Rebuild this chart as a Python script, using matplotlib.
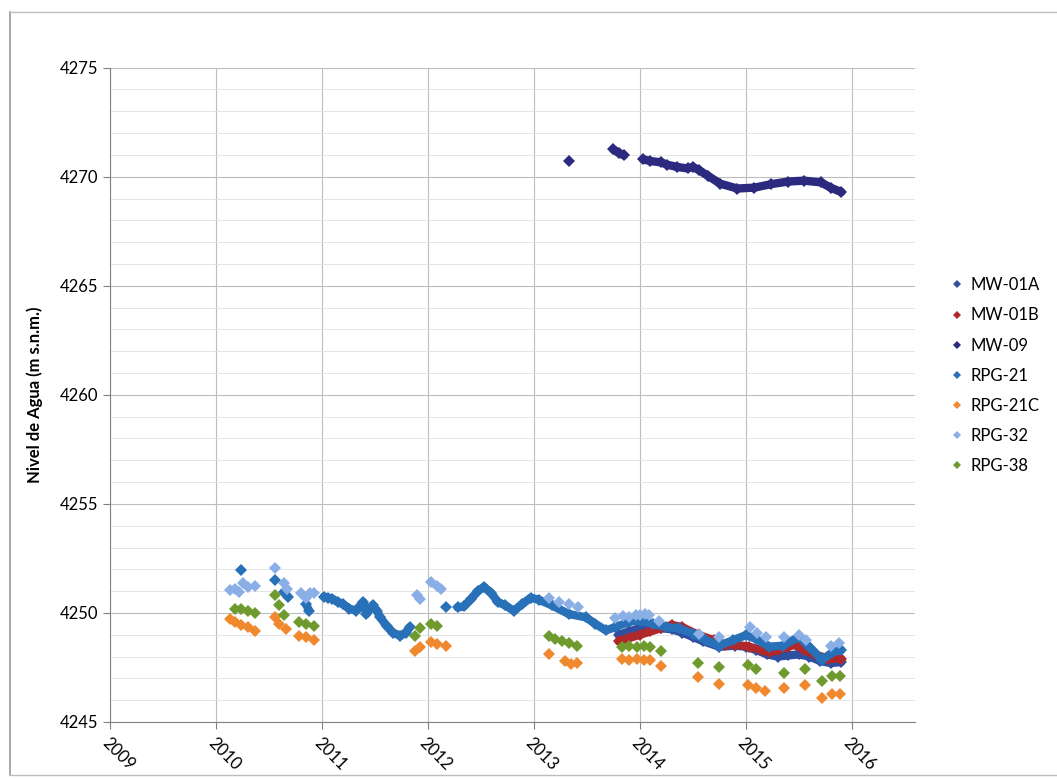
import numpy as np
import matplotlib.pyplot as plt
from matplotlib.lines import Line2D

nan = np.nan

# decimal years and water levels (m s.n.m.), nan = gap in record
mw01a_t = [2013.80, 2013.9, 2014.0, 2014.1, 2014.2, 2014.3, 2014.4, 2014.5, 2014.6, 2014.75,
           2014.9, 2015.0, 2015.1, 2015.2, 2015.3, 2015.4, 2015.5, 2015.6, 2015.7, 2015.8, 2015.9]
mw01a_y = [4249.0, 4249.15, 4249.3, 4249.35, 4249.3, 4249.25, 4249.1, 4248.9, 4248.7, 4248.45,
           4248.5, 4248.45, 4248.3, 4248.1, 4248.0, 4248.05, 4248.1, 4248.0, 4247.8, 4247.7, 4247.75]

mw01b_t = [2013.80, 2013.9, 2014.0, 2014.1, 2014.2, 2014.3, 2014.4, 2014.55, 2014.7, 2014.8,
           2014.9, 2015.03, 2015.15, 2015.22, 2015.3, 2015.4, 2015.47, 2015.55, 2015.65, 2015.78, 2015.9]
mw01b_y = [4248.7, 4248.85, 4249.0, 4249.15, 4249.3, 4249.45, 4249.35, 4249.0, 4248.75, 4248.55,
           4248.55, 4248.45, 4248.3, 4248.2, 4248.3, 4248.45, 4248.55, 4248.3, 4248.1, 4247.9, 4247.9]

mw09_t = [2013.33, nan, 2013.75, 2013.80, 2013.85, nan,
          2014.03, 2014.1, 2014.2, 2014.26, 2014.35, 2014.45, 2014.5, 2014.56, 2014.64, 2014.76,
          2014.92, 2015.08, 2015.24, 2015.4, 2015.55, 2015.71, 2015.8, 2015.9]
mw09_y = [4270.72, nan, 4271.25, 4271.1, 4270.98, nan,
          4270.8, 4270.72, 4270.66, 4270.55, 4270.45, 4270.38, 4270.45, 4270.3, 4270.05, 4269.68,
          4269.46, 4269.5, 4269.66, 4269.78, 4269.82, 4269.74, 4269.5, 4269.3]

rpg21_t = [2010.24, nan, 2010.56, nan, 2010.64, 2010.68, nan, 2010.85, 2010.88, nan,
           2011.02, 2011.06, 2011.10, 2011.15, 2011.20, 2011.26, 2011.32, 2011.36, 2011.39, 2011.42,
           2011.45, 2011.48, 2011.52, 2011.55, 2011.61, 2011.67, 2011.74, 2011.79, 2011.83, nan,
           2012.17, nan,
           2012.28, 2012.34, 2012.41, 2012.47, 2012.53, 2012.60, 2012.66, 2012.73, 2012.81, 2012.89,
           2012.97, 2013.05, 2013.17, 2013.33, 2013.49, 2013.58, 2013.68, 2013.77, 2013.90, 2014.0,
           2014.12, 2014.25, 2014.37, 2014.50, 2014.62, 2014.75, 2014.88, 2015.0, 2015.1, 2015.22,
           2015.35, 2015.5, 2015.6, 2015.72, 2015.82, 2015.9]
rpg21_y = [4251.95, nan, 4251.5, nan, 4250.95, 4250.75, nan, 4250.4, 4250.1, nan,
           4250.75, 4250.7, 4250.65, 4250.5, 4250.4, 4250.2, 4250.1, 4250.3, 4250.5, 4249.95,
           4250.2, 4250.35, 4250.1, 4249.8, 4249.4, 4249.1, 4248.95, 4249.1, 4249.35, nan,
           4250.25, nan,
           4250.25, 4250.3, 4250.65, 4251.0, 4251.2, 4250.9, 4250.5, 4250.35, 4250.1, 4250.4,
           4250.7, 4250.6, 4250.35, 4249.95, 4249.8, 4249.5, 4249.2, 4249.35, 4249.6, 4249.65,
           4249.5, 4249.35, 4249.3, 4249.05, 4248.75, 4248.5, 4248.75, 4248.98, 4248.8, 4248.45,
           4248.5, 4248.9, 4248.45, 4247.85, 4248.2, 4248.3]

rpg21c_t = [2010.13, 2010.18, 2010.24, 2010.30, 2010.37, 2010.56, 2010.60, 2010.66, 2010.78, 2010.85,
            2010.93, 2011.88, 2011.93, 2012.03, 2012.09, 2012.17, 2013.14, 2013.29, 2013.35, 2013.41,
            2013.83, 2013.9, 2013.97, 2014.04, 2014.1, 2014.2, 2014.55, 2014.75, 2015.02, 2015.1,
            2015.18, 2015.36, 2015.56, 2015.72, 2015.81, 2015.89]
rpg21c_y = [4249.72, 4249.57, 4249.45, 4249.34, 4249.18, 4249.8, 4249.5, 4249.26, 4248.95, 4248.88,
            4248.77, 4248.26, 4248.42, 4248.65, 4248.57, 4248.5, 4248.1, 4247.8, 4247.65, 4247.7,
            4247.88, 4247.85, 4247.88, 4247.85, 4247.82, 4247.58, 4247.08, 4246.74, 4246.7, 4246.58,
            4246.43, 4246.54, 4246.7, 4246.08, 4246.28, 4246.28]

rpg32_t = [2010.13, 2010.18, 2010.22, 2010.26, 2010.30, 2010.37, 2010.56, 2010.64, 2010.67, 2010.80,
           2010.85, 2010.89, 2010.93, 2011.90, 2011.93, 2012.03, 2012.09, 2012.12, 2013.14, 2013.24,
           2013.33, 2013.42, 2013.77, 2013.84, 2013.90, 2013.96, 2014.0, 2014.05, 2014.09, 2014.18,
           2014.56, 2014.75, 2015.04, 2015.11, 2015.19, 2015.36, 2015.5, 2015.57, 2015.8, 2015.88]
rpg32_y = [4251.03, 4251.1, 4250.95, 4251.35, 4251.2, 4251.25, 4252.05, 4251.35, 4251.1, 4250.9,
           4250.7, 4250.9, 4250.9, 4250.8, 4250.65, 4251.4, 4251.25, 4251.1, 4250.7, 4250.5,
           4250.4, 4250.25, 4249.75, 4249.85, 4249.8, 4249.9, 4249.9, 4249.95, 4249.9, 4249.65,
           4249.05, 4248.9, 4249.35, 4249.1, 4248.9, 4248.9, 4248.98, 4248.75, 4248.5, 4248.6]

rpg38_t = [2010.18, 2010.24, 2010.30, 2010.37, 2010.56, 2010.60, 2010.64, 2010.78, 2010.85, 2010.93,
           2011.88, 2011.93, 2012.03, 2012.09, 2013.14, 2013.20, 2013.27, 2013.33, 2013.41, 2013.83,
           2013.9, 2013.97, 2014.04, 2014.1, 2014.2, 2014.55, 2014.75, 2015.02, 2015.1, 2015.36,
           2015.56, 2015.72, 2015.81, 2015.89]
rpg38_y = [4250.18, 4250.18, 4250.1, 4250.0, 4250.8, 4250.35, 4249.9, 4249.57, 4249.5, 4249.4,
           4248.95, 4249.3, 4249.5, 4249.4, 4248.95, 4248.8, 4248.7, 4248.6, 4248.5, 4248.46,
           4248.5, 4248.46, 4248.5, 4248.46, 4248.26, 4247.72, 4247.54, 4247.6, 4247.42, 4247.26,
           4247.42, 4246.9, 4247.1, 4247.1]

names = ['MW-01A', 'MW-01B', 'MW-09', 'RPG-21', 'RPG-21C', 'RPG-32', 'RPG-38']
colors = ['#2F4FA0', '#B0282A', '#2B2A7E', '#2870B8', '#F0892E', '#8AAEE6', '#6E9A2E']
series = [(mw01a_t, mw01a_y), (mw01b_t, mw01b_y), (mw09_t, mw09_y), (rpg21_t, rpg21_y),
          (rpg21c_t, rpg21c_y), (rpg32_t, rpg32_y), (rpg38_t, rpg38_y)]
# dense (daily) records look like thick bands
dense = [True, True, True, True, False, False, False]

plt.rcParams['font.family'] = ['Lato', 'DejaVu Sans']

fig = plt.figure(figsize=(10.57, 7.78), dpi=100)
ax = fig.add_axes([0.104, 0.072, 0.762, 0.841])

for (t, y), c, d in zip(series, colors, dense):
    if d:
        ax.plot(t, y, '-', color=c, lw=6, solid_capstyle='round', solid_joinstyle='round', zorder=3)
    ax.plot(t, y, 'D', color=c, ms=6, mew=0, zorder=3, linestyle='none')

ax.set_xlim(2009, 2016.6)
ax.set_ylim(4245, 4275)
ax.set_yticks(np.arange(4245, 4276, 5))
ax.set_yticks(np.arange(4245, 4276, 1), minor=True)
ax.set_xticks(np.arange(2009, 2017))
ax.set_xticklabels([str(v) for v in range(2009, 2017)], rotation=-45, ha='left',
                   rotation_mode='anchor', fontsize=12)
ax.tick_params(axis='y', labelsize=12, length=5, color='#808080')
ax.tick_params(axis='x', length=5, color='#808080', pad=4)
ax.tick_params(which='minor', length=0)

ax.grid(True, which='major', color='#BDBDBD', lw=0.8)
ax.grid(True, which='minor', axis='y', color='#E0E0E0', lw=0.6)
ax.set_axisbelow(True)
for s in ['top', 'right']:
    ax.spines[s].set_visible(False)
for s in ['left', 'bottom']:
    ax.spines[s].set_color('#808080')

ax.set_ylabel('Nivel de Agua (m s.n.m.)', fontsize=12, fontweight='bold', labelpad=12)

handles = [Line2D([], [], marker='D', color=c, ms=4, mew=0, linestyle='none') for c in colors]
fig.legend(handles, names, loc='center left', bbox_to_anchor=(0.885, 0.517), frameon=False,
           fontsize=12, labelspacing=0.85, handlelength=0.8, handletextpad=0.4)

# outer chart frame
fig.add_artist(Line2D([0.0095, 0.0095], [0.004, 0.985], color='#9A9A9A', lw=1.2))
fig.add_artist(Line2D([0.0095, 1.0], [0.985, 0.985], color='#BDBDBD', lw=1.0))
fig.add_artist(Line2D([0.0095, 1.0], [0.004, 0.004], color='#BDBDBD', lw=1.0))

fig.savefig('out.png', dpi=100)
